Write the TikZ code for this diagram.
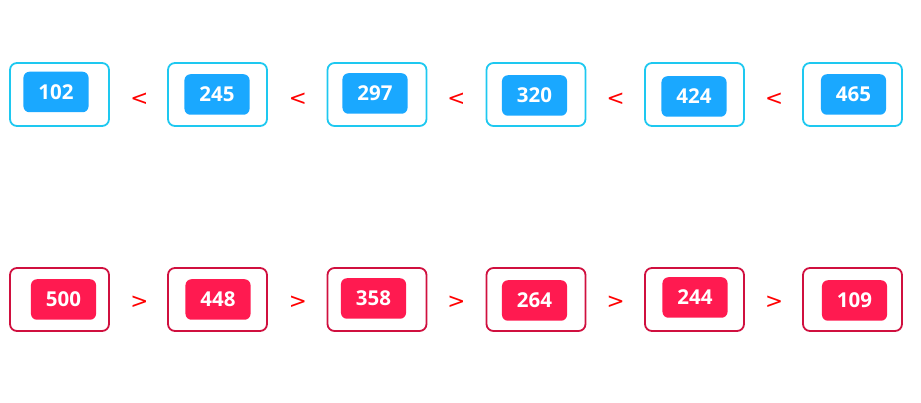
\documentclass[tikz,border=0pt]{standalone}
\usepackage{fontspec}
\setmainfont{Open Sans}
\newfontfamily\symfont{DejaVu Sans}
\definecolor{bout}{HTML}{1EC8F0}
\definecolor{bin}{HTML}{1AA8FF}
\definecolor{rout}{HTML}{D0103F}
\definecolor{rin}{HTML}{FF1A50}
\definecolor{sym}{HTML}{FF0000}
\tikzset{
  outerbox/.style={draw=#1, line width=1.8pt, rounded corners=7pt, minimum width=99pt, minimum height=63pt, inner sep=0pt},
  innerbox/.style={fill=#1, rounded corners=6pt, minimum height=40.5pt, inner xsep=15pt, inner ysep=0pt, text=white, font=\fontsize{20.5}{24}\selectfont\bfseries},
  relsym/.style={text=sym, font=\symfont\fontsize{21.5}{24}\selectfont, inner sep=0pt}
}
\begin{document}
\begin{tikzpicture}[x=1pt,y=-1pt]
\useasboundingbox (0,0) rectangle (921,403);
% row 1
\foreach \n/\ox/\ix/\iy/\v in {a1/59.5/56/92/102, a2/217.5/217/94.5/245, a3/377/375/93.5/297, a4/536/534.5/95.5/320, a5/694.5/694/96.5/424, a6/852.5/853.5/94.5/465}{
  \node[outerbox=bout] (o\n) at (\ox,94.5) {};
  \node[innerbox=bin] (i\n) at (\ix,\iy) {\v};
}
\foreach \n/\x in {s1/139.5, s2/298, s3/456.5, s4/615.5, s5/774}{
  \node[relsym] (\n) at (\x,99) {<};
}
% row 2
\foreach \n/\ox/\ix/\iy/\v in {b1/59.5/63.5/299.5/500, b2/217.5/218/299.5/448, b3/377/373.5/298.5/358, b4/536/534.5/300.5/264, b5/694.5/695/297.5/244, b6/852.5/854.5/300.5/109}{
  \node[outerbox=rout] (o\n) at (\ox,299.5) {};
  \node[innerbox=rin] (i\n) at (\ix,\iy) {\v};
}
\foreach \n/\x in {t1/139.5, t2/298, t3/456.5, t4/615.5, t5/774}{
  \node[relsym] (\n) at (\x,302) {>};
}
\end{tikzpicture}
\end{document}
